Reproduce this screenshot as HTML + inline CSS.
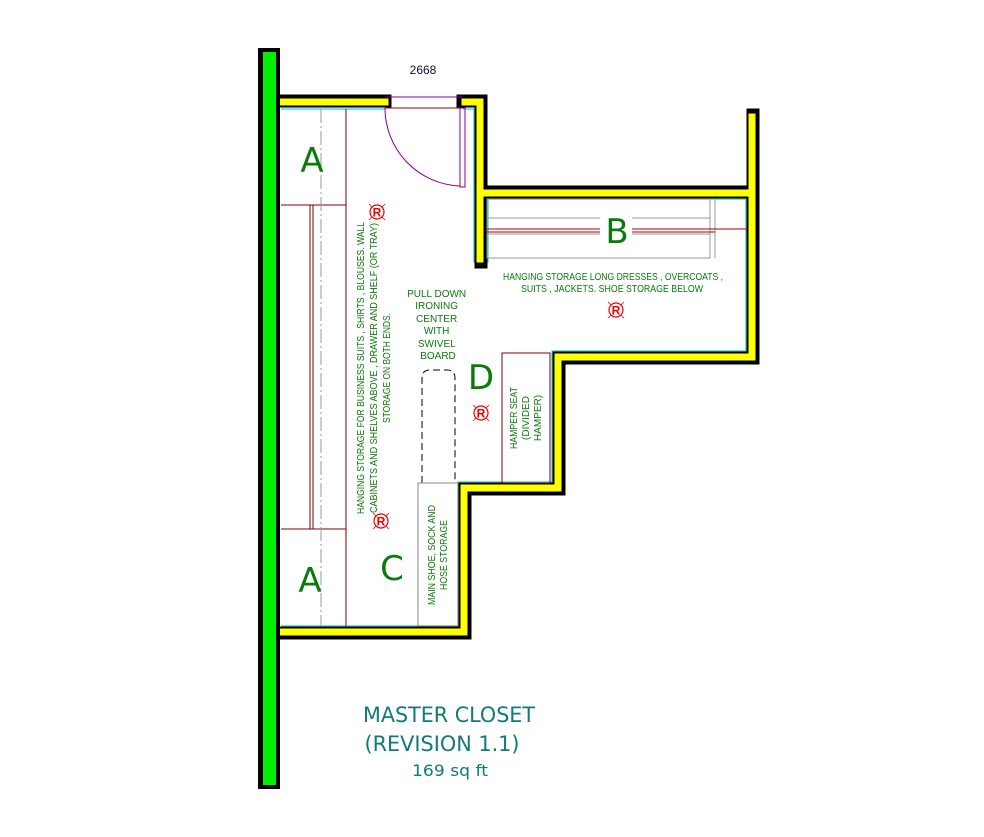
<!DOCTYPE html>
<html><head><meta charset="utf-8"><style>
html,body{margin:0;padding:0;background:#fff;width:984px;height:837px;overflow:hidden}
svg{display:block}
.g{font-family:"Liberation Sans",sans-serif;fill:#0a7a0a;font-size:10px}
.big{font-family:"DejaVu Sans","Liberation Sans",sans-serif;fill:#0a7a0a;font-size:34px}
.t{font-family:"DejaVu Sans","Liberation Sans",sans-serif;fill:#137a7a}
</style></head><body>
<svg width="984" height="837" viewBox="0 0 984 837" xmlns="http://www.w3.org/2000/svg">
<defs>
<g id="R">
<circle cx="0" cy="0" r="7" fill="none" stroke="#e00" stroke-width="1.2"/>
<text x="0" y="4.5" text-anchor="middle" font-family="Liberation Sans,sans-serif" font-size="12" font-weight="bold" fill="#e00">R</text>
<path d="M-8 -8 l3 3 M8 -8 l-3 3 M-8 8 l3 -3 M8 8 l-3 -3" stroke="#e00" stroke-width="0.8"/>
</g>
</defs>

<!-- cyan inner lines -->
<g fill="none" stroke="#3cc" stroke-width="1.2">
<path d="M281 109 H385 M463 109 H474 V262 H488 V199 H746 V351 H552 V482 H458 V626 H281"/>
</g>

<!-- walls -->
<g fill="none" stroke-linejoin="miter" stroke-linecap="square">
<path d="M281 101 H385 M463 101 H481 V262 M481 192 H753 M753 115 V358 H559 V489 H465 V633 H281" stroke="#000" stroke-width="13"/>
<path d="M281 102 H385 M465 102 H480 V259 M484 193 H752 M752 117 V357 H558 V488 H464 V632 H281" stroke="#ff0" stroke-width="7"/>
</g>
<!-- left wall -->
<rect x="258" y="48" width="22" height="741" fill="#000"/>
<rect x="263" y="52" width="13" height="733" fill="#0e0"/>

<!-- door -->
<line x1="385" y1="97" x2="463" y2="97" stroke="#808" stroke-width="1"/>
<line x1="385" y1="108" x2="463" y2="108" stroke="#a00" stroke-width="1"/>
<rect x="460" y="108" width="5" height="79" fill="none" stroke="#808" stroke-width="1"/>
<path d="M385 108 A78 78 0 0 0 460 186" fill="none" stroke="#808" stroke-width="1"/>
<text x="423" y="74" text-anchor="middle" font-family="Liberation Sans,sans-serif" font-size="12" fill="#113">2668</text>

<!-- A cabinets -->
<g stroke="#700" stroke-width="1" fill="none">
<line x1="346" y1="109" x2="346" y2="626"/>
<line x1="281" y1="205" x2="346" y2="205"/>
<line x1="281" y1="529" x2="346" y2="529"/>
<line x1="310" y1="205" x2="310" y2="529"/>
<line x1="313" y1="205" x2="313" y2="529"/>
</g>
<line x1="321" y1="109" x2="321" y2="626" stroke="#999" stroke-width="1" stroke-dasharray="14,3,2,3"/>
<text class="big" x="312" y="172" text-anchor="middle">A</text>
<text class="big" x="310" y="592" text-anchor="middle">A</text>

<!-- B -->
<rect x="487" y="199" width="223" height="59" fill="none" stroke="#999" stroke-width="1"/>
<line x1="715" y1="199" x2="715" y2="258" stroke="#999"/>
<line x1="487" y1="218" x2="710" y2="218" stroke="#999"/>
<line x1="487" y1="234" x2="710" y2="234" stroke="#999"/>
<line x1="487" y1="229" x2="746" y2="229" stroke="#a00"/>
<line x1="487" y1="232" x2="715" y2="232" stroke="#a00"/>
<rect x="600" y="212" width="32" height="34" fill="#fff"/>
<text class="big" x="617" y="243" text-anchor="middle">B</text>
<text class="g" x="613" y="280" text-anchor="middle" textLength="220" lengthAdjust="spacingAndGlyphs">HANGING STORAGE LONG DRESSES , OVERCOATS ,</text>
<text class="g" x="612" y="292" text-anchor="middle" textLength="182" lengthAdjust="spacingAndGlyphs">SUITS , JACKETS. SHOE STORAGE BELOW</text>
<use href="#R" x="616" y="310"/>

<!-- hamper -->
<rect x="502" y="353" width="48" height="130" fill="none" stroke="#700" stroke-width="1"/>
<g transform="translate(525 418) rotate(-90)">
<text class="g" x="0" y="-8" text-anchor="middle" textLength="62" lengthAdjust="spacingAndGlyphs">HAMPER SEAT</text>
<text class="g" x="0" y="4" text-anchor="middle">(DIVIDED</text>
<text class="g" x="0" y="16" text-anchor="middle">HAMPER)</text>
</g>
<text class="big" x="481" y="389" text-anchor="middle">D</text>
<use href="#R" x="481" y="413"/>

<!-- ironing board -->
<path d="M422 483 V378 Q422 370 430 370 H447 Q455 370 455 378 V483" fill="none" stroke="#000" stroke-width="1" stroke-dasharray="7,4"/>
<text class="g" text-anchor="middle">
<tspan x="438" y="297">PULL DOWN</tspan>
<tspan x="438" y="309">IRONING</tspan>
<tspan x="438" y="322">CENTER</tspan>
<tspan x="438" y="334">WITH</tspan>
<tspan x="438" y="347">SWIVEL</tspan>
<tspan x="438" y="359">BOARD</tspan>
</text>

<!-- shoe storage -->
<rect x="418" y="483" width="40" height="143" fill="none" stroke="#888" stroke-width="1"/>
<g transform="translate(438 555) rotate(-90)">
<text class="g" x="0" y="-3" text-anchor="middle" textLength="100" lengthAdjust="spacingAndGlyphs">MAIN SHOE, SOCK AND</text>
<text class="g" x="0" y="9" text-anchor="middle" textLength="70" lengthAdjust="spacingAndGlyphs">HOSE STORAGE</text>
</g>
<text class="big" x="392" y="580" text-anchor="middle">C</text>

<!-- long text -->
<g transform="translate(374 368) rotate(-90)">
<text class="g" x="0" y="-10" text-anchor="middle" textLength="292" lengthAdjust="spacingAndGlyphs">HANGING STORAGE FOR BUSINESS SUITS , SHIRTS , BLOUSES. WALL</text>
<text class="g" x="0" y="3" text-anchor="middle" textLength="290" lengthAdjust="spacingAndGlyphs">CABINETS AND SHELVES ABOVE , DRAWER AND SHELF (OR TRAY)</text>
<text class="g" x="0" y="16" text-anchor="middle" textLength="110" lengthAdjust="spacingAndGlyphs">STORAGE ON BOTH ENDS.</text>
</g>
<use href="#R" x="377" y="212"/>
<use href="#R" x="381" y="521"/>

<!-- title -->
<text class="t" x="449" y="722" text-anchor="middle" font-size="21" textLength="172" lengthAdjust="spacingAndGlyphs">MASTER CLOSET</text>
<text class="t" x="442" y="751" text-anchor="middle" font-size="21" textLength="155" lengthAdjust="spacingAndGlyphs">(REVISION 1.1)</text>
<text class="t" x="450" y="776" text-anchor="middle" font-size="16" textLength="76" lengthAdjust="spacingAndGlyphs">169 sq ft</text>
</svg>
</body></html>
